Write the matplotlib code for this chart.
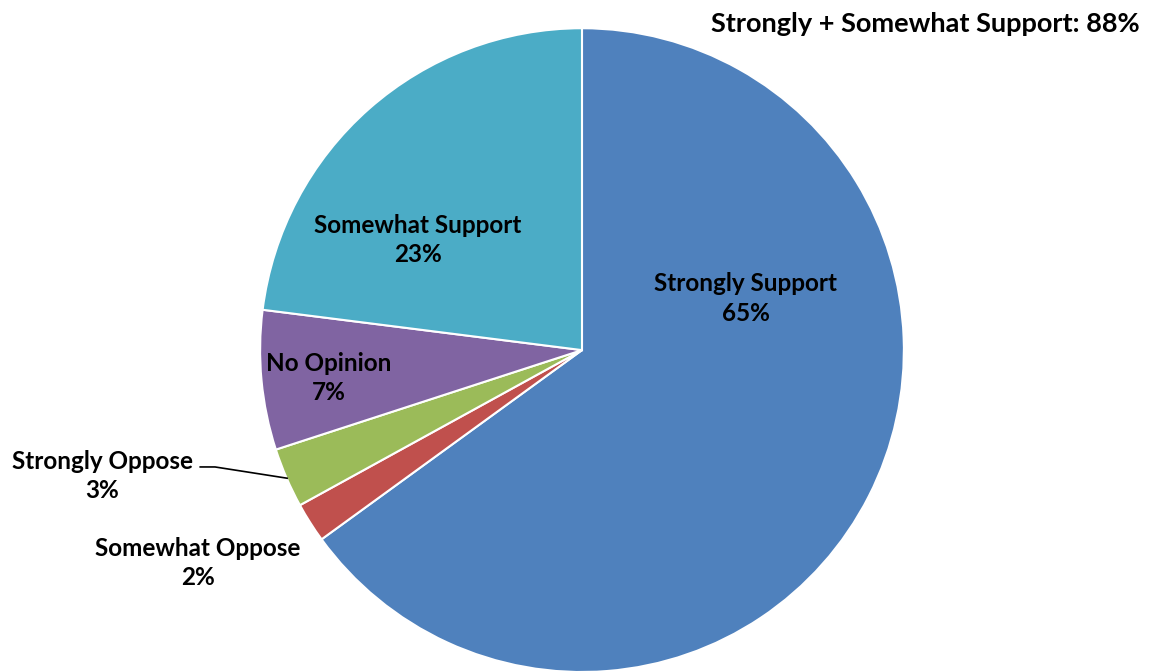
import matplotlib.pyplot as plt

plt.rcParams['font.family'] = ['Lato', 'DejaVu Sans']

# data
labels = ["Strongly Support", "Somewhat Oppose", "Strongly Oppose", "No Opinion", "Somewhat Support"]
values = [65, 2, 3, 7, 23]
colors = ["#4F81BD", "#C0504D", "#9BBB59", "#8064A2", "#4BACC6"]

fig = plt.figure(figsize=(11.52, 6.72), dpi=100)
ax = fig.add_axes([0.2257, 0.0, 0.559, 0.958])

ax.pie(values, colors=colors, startangle=90, counterclock=False, radius=1,
       wedgeprops=dict(edgecolor="white", linewidth=1.5))
ax.set_xlim(-1, 1)
ax.set_ylim(-1, 1)
ax.set_aspect("equal")
ax.axis("off")

fs = 17.5
kw = dict(ha="center", va="center", fontsize=fs, fontweight="bold", linespacing=1.35, clip_on=False)
ax.text(0.509, 0.161, f"{labels[0]}\n{values[0]}%", **kw)
ax.text(-0.509, 0.342, f"{labels[4]}\n{values[4]}%", **kw)
ax.text(-0.786, -0.087, f"{labels[3]}\n{values[3]}%", **kw)
ax.text(-1.491, -0.391, f"{labels[2]}\n{values[2]}%", **kw)
ax.text(-1.193, -0.661, f"{labels[1]}\n{values[1]}%", **kw)

# leader line for Strongly Oppose
ax.plot([-1.186, -1.140, -0.916], [-0.363, -0.363, -0.398], color="black", lw=1.2, clip_on=False)

fig.text(1140 / 1152, 1 - 24 / 672, f"Strongly + Somewhat Support: {values[0] + values[4]}%",
         ha="right", va="center", fontsize=19.5, fontweight="bold",
         bbox=dict(facecolor="white", edgecolor="none", pad=2))

fig.savefig("out.png", dpi=100)
